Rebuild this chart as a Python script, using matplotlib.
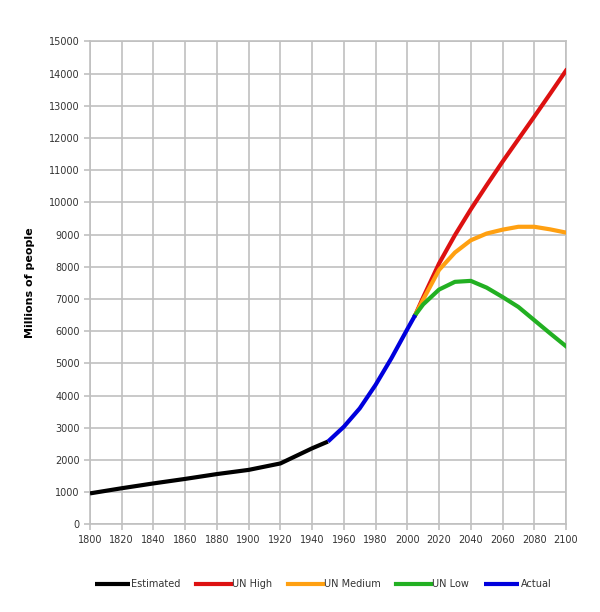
import matplotlib
matplotlib.use('Agg')
import matplotlib.pyplot as plt

# data (millions of people)
est_years = [1800, 1820, 1840, 1860, 1880, 1900, 1920, 1940, 1950]
est_pop = [960, 1120, 1270, 1410, 1560, 1690, 1890, 2360, 2570]

act_years = [1950, 1960, 1970, 1980, 1990, 2000, 2005]
act_pop = [2570, 3030, 3600, 4330, 5160, 6060, 6500]

proj_years = [2005, 2010, 2020, 2030, 2040, 2050, 2060, 2070, 2080, 2090, 2100]
high_pop = [6500, 7050, 8100, 8980, 9780, 10530, 11260, 11960, 12660, 13370, 14090]
medium_pop = [6500, 6980, 7900, 8440, 8820, 9030, 9150, 9240, 9240, 9160, 9060]
low_pop = [6500, 6830, 7290, 7530, 7560, 7350, 7060, 6750, 6340, 5930, 5530]

xticks = list(range(1800, 2101, 20))
yticks = list(range(0, 15001, 1000))

fig = plt.figure(figsize=(6, 6.12), dpi=100)
ax = fig.add_axes([0.15, 0.1433, 0.7933, 0.7892])

lw = 3
ax.plot(est_years, est_pop, color='black', lw=lw, label='Estimated', solid_capstyle='butt', zorder=3)
ax.plot(proj_years, high_pop, color='#dd1111', lw=lw, label='UN High', zorder=3)
ax.plot(proj_years, medium_pop, color='#ffa011', lw=lw, label='UN Medium', zorder=3)
ax.plot(proj_years, low_pop, color='#22b022', lw=lw, label='UN Low', zorder=3)
ax.plot(act_years, act_pop, color='#0000dd', lw=lw, label='Actual', solid_capstyle='butt', zorder=4)

ax.set_xlim(1800, 2100)
ax.set_ylim(0, 15000)
ax.set_xticks(xticks)
ax.set_yticks(yticks)
ax.grid(True, color='#c0c0c0', lw=1.2)
ax.set_axisbelow(True)
for s in ax.spines.values():
    s.set_color('#c0c0c0')
    s.set_linewidth(1.2)
ax.tick_params(labelsize=7, colors='#c0c0c0', labelcolor='#333333', length=4, width=1.2)
ax.set_ylabel('Millions of people', fontsize=8, fontweight='bold', labelpad=10)

ax.legend(loc='upper center', bbox_to_anchor=(0.49, -0.095), ncol=5, frameon=False,
          fontsize=7, handlelength=3.6, handletextpad=0.1, columnspacing=1.6,
          labelcolor='#333333')

fig.savefig('out.png', dpi=100)
